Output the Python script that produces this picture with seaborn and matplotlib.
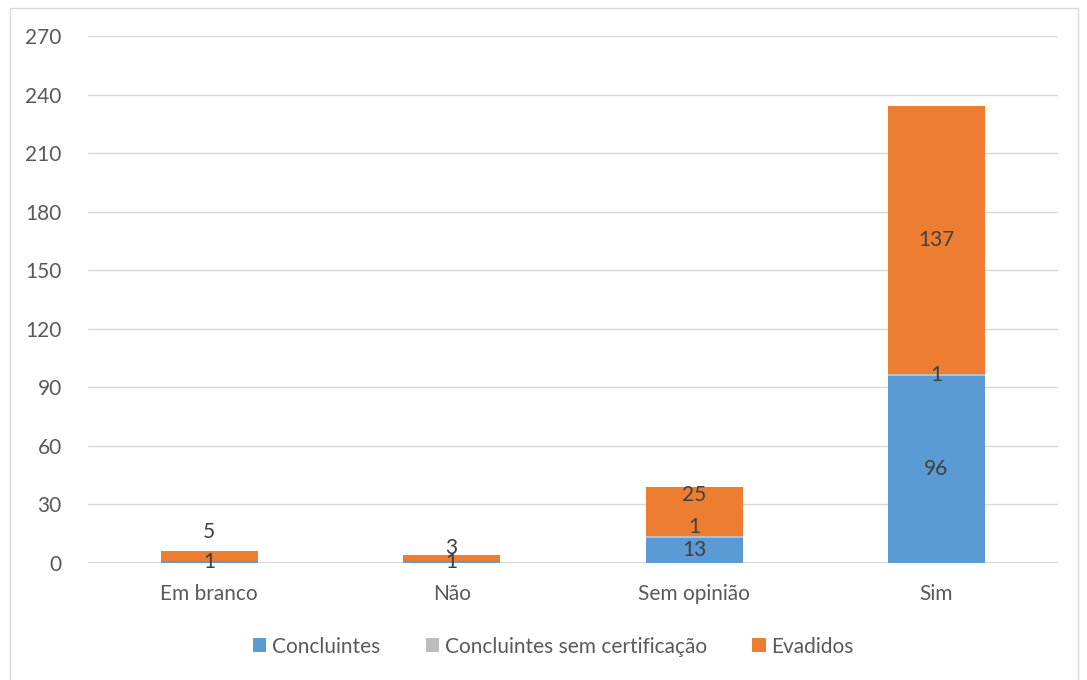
import matplotlib
matplotlib.use("Agg")
import matplotlib.pyplot as plt
import seaborn as sns
import pandas as pd
import numpy as np
from matplotlib.patches import Rectangle

categories = ["Em branco", "Não", "Sem opinião", "Sim"]
series_names = ["Concluintes", "Concluintes sem certificação", "Evadidos"]
concluintes = [1, 1, 13, 96]
sem_cert = [0, 0, 1, 1]
evadidos = [5, 3, 25, 137]
yticks = [0, 30, 60, 90, 120, 150, 180, 210, 240, 270]

colors = ["#5B9BD5", "#BDBDBD", "#ED7D31"]
text_color = "#595959"

sns.set_theme(style="white")
plt.rcParams["font.family"] = ["Lato", "DejaVu Sans"]
FS = 15

fig = plt.figure(figsize=(10.87, 6.8), dpi=100)
ax = fig.add_axes([0.081, 0.172, 0.892, 0.775])

values = [concluintes, sem_cert, evadidos]
bottom = np.zeros(len(categories))
# label nudges (in data units) where Excel moved overlapping labels
nudge = {(0, 2): 12.5, (1, 2): 5.2, (2, 1): 4.9, (2, 2): 8.3}
for si, (name, vals) in enumerate(zip(series_names, values)):
    df = pd.DataFrame({"cat": categories, "val": vals})
    sns.barplot(data=df, x="cat", y="val", color=colors[si], bottom=bottom,
                width=0.4, ax=ax, label=name, saturation=1, linewidth=0)
    for ci, v in enumerate(vals):
        if v > 0:
            y = bottom[ci] + v / 2 + nudge.get((ci, si), 0)
            ax.text(ci, y, str(v), ha="center", va="center", fontsize=FS,
                    color="#404040")
    bottom = bottom + np.array(vals)

ax.set_ylim(0, 270)
ax.set_xlim(-0.5, 3.5)
ax.set_yticks(yticks)
ax.set_yticklabels([str(t) for t in yticks])
ax.grid(axis="y", color="#D9D9D9", linewidth=1)
ax.set_axisbelow(True)
for s in ax.spines.values():
    s.set_visible(False)
ax.axhline(0, color="#D0D0D0", linewidth=1.2, zorder=0.5)
ax.tick_params(axis="both", length=0, labelsize=FS, labelcolor=text_color)
ax.tick_params(axis="y", pad=19)
ax.tick_params(axis="x", pad=15)
ax.set_xlabel("")
ax.set_ylabel("")
if ax.get_legend():
    ax.get_legend().remove()

handles, labels = ax.get_legend_handles_labels()
fig.legend(handles, labels, loc="center", bbox_to_anchor=(0.509, 0.049), ncol=3,
           frameon=False, fontsize=FS, handlelength=0.65, handleheight=0.65,
           handletextpad=0.25, columnspacing=2.2, labelcolor=text_color)

fig.patches.append(Rectangle((10 / 1087, -0.01), 1068 / 1087, 1 - 8 / 680 + 0.01,
                             transform=fig.transFigure, fill=False,
                             edgecolor="#D9D9D9", linewidth=1))

fig.savefig("out.png", dpi=100)
